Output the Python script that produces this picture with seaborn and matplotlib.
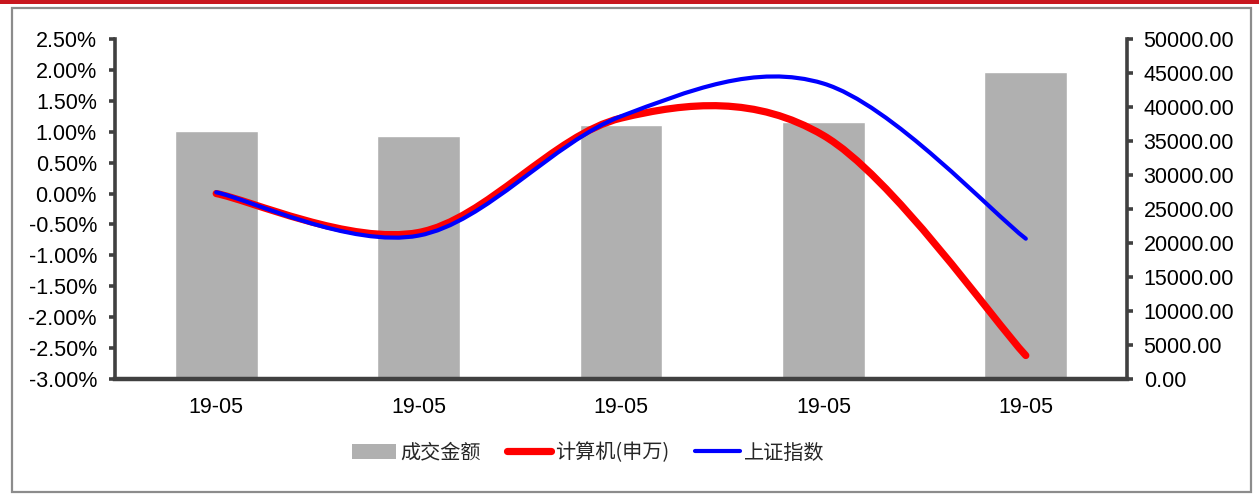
import matplotlib
matplotlib.use("Agg")
import matplotlib.pyplot as plt
import seaborn as sns
from matplotlib.path import Path
from matplotlib.patches import PathPatch, Rectangle, Patch
from matplotlib.lines import Line2D
from matplotlib.ticker import FuncFormatter, MultipleLocator

# 数据
dates = ["19-05", "19-05", "19-05", "19-05", "19-05"]
turnover = [36500, 35700, 37300, 37800, 45100]          # 成交金额
computer = [0.0000, -0.0063, 0.0122, 0.0094, -0.0262]     # 计算机(申万)
shanghai = [0.0002, -0.0068, 0.0125, 0.0178, -0.0073]     # 上证指数

sns.set_style("white")
plt.rcParams['font.family'] = ['Liberation Sans', 'Noto Sans CJK SC', 'DejaVu Sans']

DARK = "#404040"
FS = 15.5


def smooth_path(xs, ys):
    """Excel 风格平滑线 (Bezier)"""
    pts = list(zip(xs, ys))
    verts = [pts[0]]
    codes = [Path.MOVETO]
    n = len(pts)
    for i in range(n - 1):
        p0 = pts[i - 1] if i > 0 else pts[i]
        p1 = pts[i]
        p2 = pts[i + 1]
        p3 = pts[i + 2] if i + 2 < n else pts[i + 1]
        c1 = (p1[0] + (p2[0] - p0[0]) / 6, p1[1] + (p2[1] - p0[1]) / 6)
        c2 = (p2[0] - (p3[0] - p1[0]) / 6, p2[1] - (p3[1] - p1[1]) / 6)
        verts += [c1, c2, p2]
        codes += [Path.CURVE4] * 3
    return Path(verts, codes)


fig = plt.figure(figsize=(12.59, 4.95), dpi=100)
ax = fig.add_axes([115 / 1259, 1 - 379 / 495, 1012 / 1259, 340 / 495])

# 柱状图 (右轴)
x = list(range(len(dates)))
sns.barplot(x=x, y=turnover, color="#B0B0B0", saturation=1, width=0.41,
            errorbar=None, ax=ax, zorder=2)
ax.set_xlim(-0.5, len(dates) - 0.5)
ax.set_ylim(0, 50000)

# 折线 (左轴)
ax2 = ax.twinx()
ax.yaxis.tick_right()
ax.yaxis.set_label_position("right")
ax2.yaxis.tick_left()
ax2.yaxis.set_label_position("left")
ax.yaxis.set_major_locator(MultipleLocator(5000))
ax.yaxis.set_major_formatter(FuncFormatter(lambda v, p: f"{v:.2f}"))
ax2.set_ylim(-0.03, 0.025)
ax2.yaxis.set_major_locator(MultipleLocator(0.005))
ax2.yaxis.set_major_formatter(FuncFormatter(lambda v, p: f"{v * 100:.2f}%"))
ax2.add_patch(PathPatch(smooth_path(x, computer), fill=False, edgecolor="#FF0000",
                        lw=5.2, capstyle="round", joinstyle="round", zorder=3))
ax2.add_patch(PathPatch(smooth_path(x, shanghai), fill=False, edgecolor="#0000FF",
                        lw=3.0, capstyle="round", joinstyle="round", zorder=4))

# 坐标轴样式
for a in (ax, ax2):
    a.set_xlabel("")
    a.set_ylabel("")
    for s in a.spines.values():
        s.set_visible(False)
ax.spines["bottom"].set_visible(True)
ax.spines["bottom"].set_color(DARK)
ax.spines["bottom"].set_linewidth(3.2)
ax.spines["right"].set_visible(True)
ax.spines["right"].set_color(DARK)
ax.spines["right"].set_linewidth(2.6)
ax2.spines["left"].set_visible(True)
ax2.spines["left"].set_color(DARK)
ax2.spines["left"].set_linewidth(2.6)

ax.set_xticks(x)
ax.set_xticklabels(dates)
ax.set_xticks([i - 0.5 for i in range(len(dates) + 1)], minor=True)
ax.tick_params(axis="x", which="major", length=0, pad=13, labelsize=FS, colors="black")
ax.tick_params(axis="x", which="minor", length=5, width=2.6, color=DARK, direction="out")
ax.tick_params(axis="y", length=4, width=2.6, color=DARK, pad=8, labelsize=FS,
               labelcolor="black", direction="out")
ax2.tick_params(axis="y", length=4, width=2.6, color=DARK, pad=9, labelsize=FS,
                labelcolor="black", direction="out")

# 图例
handles = [Patch(facecolor="#B0B0B0", edgecolor="none"),
           Line2D([0], [0], color="#FF0000", lw=5.2, solid_capstyle="round"),
           Line2D([0], [0], color="#0000FF", lw=3.0, solid_capstyle="round")]
labels = ["成交金额", "计算机(申万)", "上证指数"]
fig.legend(handles, labels, loc="center", bbox_to_anchor=(588 / 1259, 1 - 453 / 495),
           ncol=3, frameon=False, handlelength=2.2, handleheight=0.75,
           handletextpad=0.2, columnspacing=1.3,
           prop={"family": ["Noto Sans CJK SC", "DejaVu Sans"], "size": 14.5})

# 外框与顶部红线
fig.patches.append(Rectangle((12 / 1259, 3 / 495), 1239 / 1259, 484 / 495,
                             transform=fig.transFigure, fill=False,
                             edgecolor="#8C8C8C", lw=1.6))
fig.patches.append(Rectangle((0, 1 - 4 / 495), 1, 4 / 495, transform=fig.transFigure,
                             facecolor="#C8161E", edgecolor="none"))

fig.savefig("out.png", dpi=100)
